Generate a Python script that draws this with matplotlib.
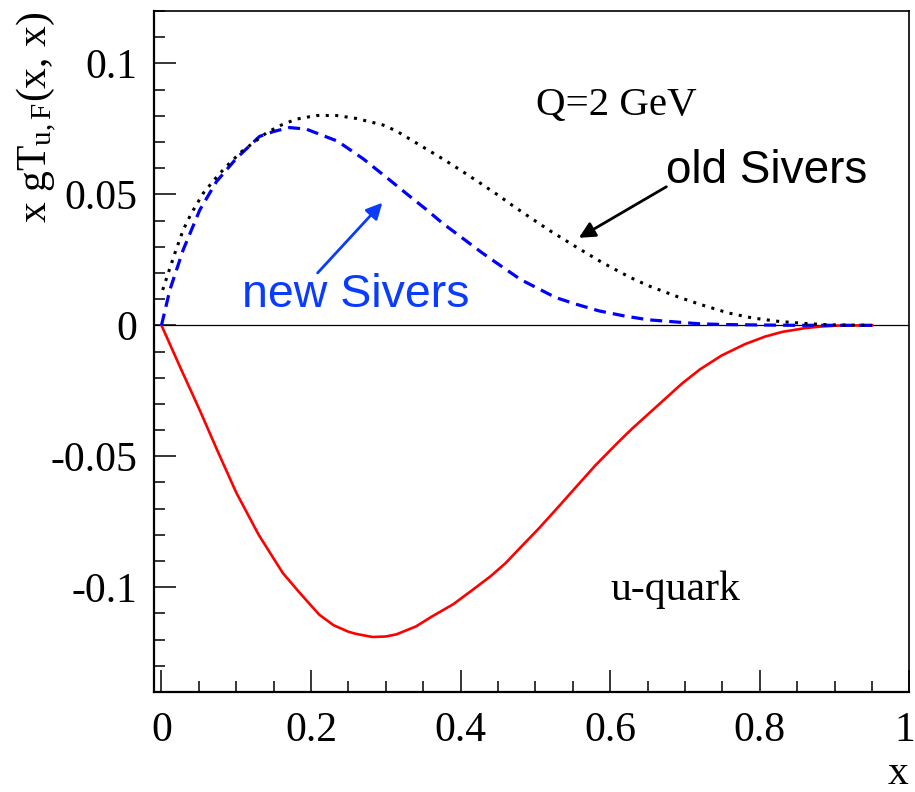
import numpy as np
import matplotlib
matplotlib.use('Agg')
import matplotlib.pyplot as plt
from matplotlib.ticker import MultipleLocator
from matplotlib.transforms import ScaledTranslation

# u-quark curve (red, solid)
x_u = [0.0, 0.025, 0.051, 0.075, 0.1, 0.13, 0.162, 0.185, 0.211, 0.23, 0.25,
       0.26, 0.282, 0.3, 0.314, 0.34, 0.362, 0.39, 0.416, 0.44, 0.46, 0.48,
       0.505, 0.53, 0.554, 0.58, 0.611, 0.629, 0.66, 0.696, 0.72, 0.749,
       0.78, 0.807, 0.83, 0.86, 0.88, 0.905, 0.95]
gT_u = [0.0, -0.016, -0.0323, -0.048, -0.0639, -0.080, -0.0945, -0.1022,
        -0.1105, -0.1145, -0.1170, -0.1178, -0.1190, -0.1188, -0.1180,
        -0.1150, -0.1111, -0.1065, -0.1010, -0.0958, -0.0908, -0.0848,
        -0.0774, -0.0695, -0.0618, -0.0535, -0.0445, -0.0395, -0.0315,
        -0.0222, -0.0168, -0.0115, -0.0072, -0.0043, -0.0025, -0.0011,
        -0.0005, -0.0001, 0.0]

# new Sivers (blue, dashed)
x_new = [0.0, 0.0113, 0.029, 0.0513, 0.0736, 0.1003, 0.131, 0.15, 0.171,
         0.1936, 0.2336, 0.242, 0.27, 0.305, 0.33, 0.3536, 0.3757, 0.4,
         0.429, 0.447, 0.48, 0.527, 0.555, 0.585, 0.62, 0.651, 0.718, 0.75,
         0.807, 0.85, 0.9, 0.95]
f_new = [0.0, 0.0136, 0.0288, 0.0441, 0.0549, 0.0638, 0.0721, 0.0740,
         0.0755, 0.0749, 0.0705, 0.0690, 0.0635, 0.0555, 0.0497, 0.0443,
         0.0390, 0.0338, 0.0276, 0.0240, 0.0175, 0.0106, 0.0080, 0.0055,
         0.0035, 0.0021, 0.0006, 0.0003, 0.0001, 0.0, 0.0, 0.0]

# old Sivers (black, dotted)
x_old = [0.0016, 0.009, 0.018, 0.029, 0.04, 0.056, 0.076, 0.091, 0.107,
         0.122, 0.14, 0.158, 0.18, 0.207, 0.234, 0.26, 0.296, 0.314, 0.35,
         0.378, 0.40, 0.425, 0.451, 0.469, 0.491, 0.52, 0.555, 0.589, 0.625,
         0.65, 0.691, 0.72, 0.758, 0.79, 0.825, 0.86, 0.891, 0.92, 0.95]
f_old = [0.0135, 0.0199, 0.0276, 0.0364, 0.0428, 0.0505, 0.0574, 0.0619,
         0.0663, 0.0695, 0.0734, 0.0762, 0.0787, 0.0801, 0.0801, 0.0790,
         0.0765, 0.0742, 0.0680, 0.0632, 0.0592, 0.0545, 0.0495, 0.0458,
         0.0415, 0.0360, 0.0298, 0.0240, 0.0185, 0.0152, 0.0108, 0.0080,
         0.0047, 0.0028, 0.0015, 0.0007, 0.0002, 0.0001, 0.0]

serif = ['Liberation Serif', 'DejaVu Serif']
sans = ['Liberation Sans', 'DejaVu Sans']
plt.rcParams['mathtext.fontset'] = 'custom'
plt.rcParams['mathtext.rm'] = 'Liberation Serif'
plt.rcParams['mathtext.it'] = 'Liberation Serif:italic'

fig = plt.figure(figsize=(9.15, 7.92), dpi=100)
ax = fig.add_axes([154 / 915, 1 - 692 / 792, (909.5 - 154) / 915, (692 - 11) / 792])

ax.axhline(0, color='black', lw=0.9, zorder=1)
ax.plot(x_u, gT_u, color='red', lw=1.9, zorder=3)
ax.plot(x_new, f_new, color='blue', lw=2.3, linestyle=(0, (3.75, 2.2)), zorder=3)
ax.plot(x_old, f_old, color='black', lw=2.2, linestyle=(0, (1.0, 2.1)), zorder=3)

ax.set_xlim(-0.01, 1.0)
ax.set_ylim(-0.14, 0.12)

for s in ax.spines.values():
    s.set_linewidth(1.6)
ax.spines['top'].set_linewidth(1.2)
ax.spines['right'].set_linewidth(1.2)

ax.xaxis.set_major_locator(MultipleLocator(0.2))
ax.xaxis.set_minor_locator(MultipleLocator(0.05))
ax.yaxis.set_major_locator(MultipleLocator(0.05))
ax.yaxis.set_minor_locator(MultipleLocator(0.01))
ax.tick_params(which='both', direction='in', top=False, right=False, width=1.1)
ax.tick_params(which='major', length=16, labelsize=30)
ax.tick_params(which='minor', length=8)
ax.tick_params(axis='x', which='major', pad=14)
ax.tick_params(axis='y', which='major', pad=12)
ax.set_xticks([0, 0.2, 0.4, 0.6, 0.8, 1.0])
ax.set_xticklabels(['0', '0.2', '0.4', '0.6', '0.8', '1'])
ax.set_yticks([-0.1, -0.05, 0, 0.05, 0.1])
ax.set_yticklabels(['-0.1', '-0.05', '0', '0.05', '0.1'])
for lab in ax.get_xticklabels() + ax.get_yticklabels():
    lab.set_family(serif)
# keep the "1" inside the canvas
last = ax.get_xticklabels()[-1]
last.set_transform(last.get_transform() + ScaledTranslation(-5 / 100, 0, fig.dpi_scale_trans))

# annotations
ax.text(0.5007, 0.0803, 'Q=2 GeV', family=serif, fontsize=29.5)
ax.text(0.6007, -0.1048, 'u-quark', family=serif, fontsize=30)
ax.text(0.674, 0.0544, 'old Sivers', family=sans, fontsize=33)
ax.text(0.107, 0.0071, 'new Sivers', family=sans, fontsize=33.5, color='#0a3cff')

ax.annotate('', xy=(0.558, 0.0334), xytext=(0.675, 0.0529),
            arrowprops=dict(arrowstyle='-|>', color='black', lw=2,
                            mutation_scale=24, shrinkA=0, shrinkB=0))
ax.annotate('', xy=(0.2953, 0.0468), xytext=(0.2087, 0.0200),
            arrowprops=dict(arrowstyle='-|>', color='#0a3cff', lw=2,
                            mutation_scale=24, shrinkA=0, shrinkB=0))

# axis titles, ROOT style: at the ends of the axes
fig.text(37 / 915, 1 - 12 / 792, r'x g$\mathrm{T}_{\mathrm{u,F}}$(x, x)',
         family=serif, fontsize=30, rotation=90, ha='center', va='top')
fig.text(898 / 915, 1 - 784 / 792, 'x', family=serif, fontsize=30,
         ha='center', va='baseline')

fig.savefig('out.png', dpi=100)
